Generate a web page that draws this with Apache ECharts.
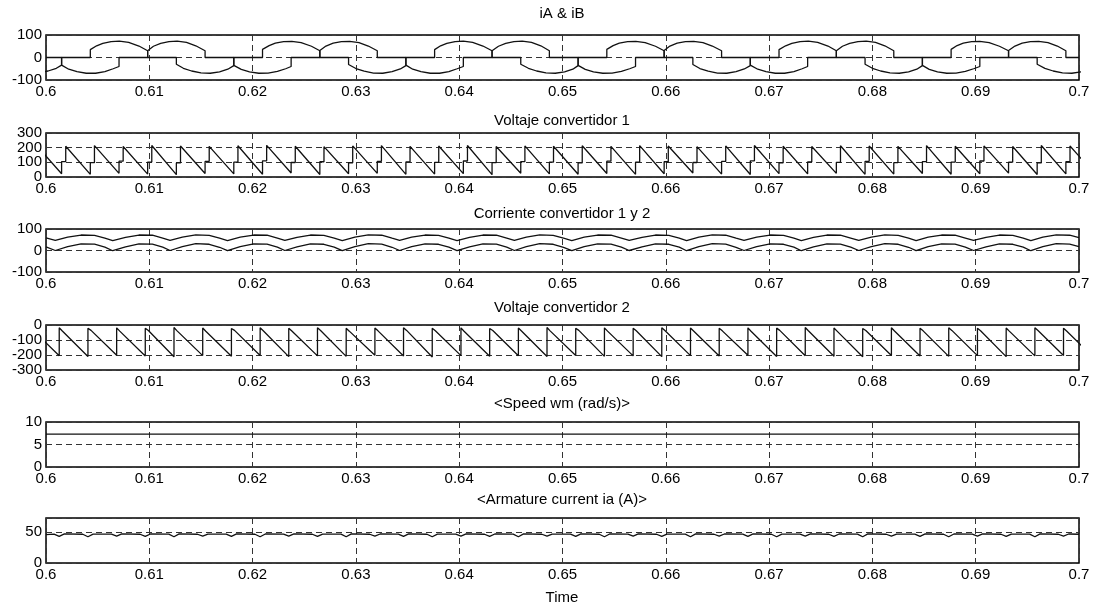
<!DOCTYPE html>
<html>
<head>
<meta charset="utf-8">
<script src="https://cdn.jsdelivr.net/npm/echarts@6/dist/echarts.min.js"></script>
<style>
  html, body { margin: 0; padding: 0; background: #fff; }
  #chart { width: 1097px; height: 611px; }
</style>
</head>
<body>
<div id="chart"></div>
<script>
// eje de tiempo comun
const xTicks = [0.6, 0.61, 0.62, 0.63, 0.64, 0.65, 0.66, 0.67, 0.68, 0.69, 0.7];
const xTickLabels = ['0.6', '0.61', '0.62', '0.63', '0.64', '0.65', '0.66', '0.67', '0.68', '0.69', '0.7'];

const panelTitles = ['iA & iB', 'Voltaje convertidor 1', 'Corriente convertidor 1 y 2',
  'Voltaje convertidor 2', '<Speed wm (rad/s)>', '<Armature current ia (A)>'];

// ticks del eje y de cada panel
const iTicks = [-100, 0, 100];
const v1Ticks = [0, 100, 200, 300];
const cTicks = [-100, 0, 100];
const v2Ticks = [-300, -200, -100, 0];
const wTicks = [0, 5, 10];
const iaTicks = [0, 50];

// iA (t, A)
const iA = [
  [0.5993, -68], [0.6002, -60], [0.6010, -48], [0.60151, -34], [0.60151, 0],
  [0.60429, 0], [0.60429, 35], [0.6049, 52], [0.6055, 63], [0.6063, 71], [0.6071, 73], [0.6080, 67], [0.6090, 51], [0.60984, 30], [0.60984, 0],
  [0.61262, 0], [0.61262, -30], [0.6133, -48], [0.6141, -60], [0.6150, -68], [0.6159, -70], [0.6168, -64], [0.6176, -52], [0.61818, -36], [0.61818, 0],
  [0.62096, 0], [0.62096, 36], [0.6216, 53], [0.6222, 64], [0.6230, 71], [0.6238, 72], [0.6247, 66], [0.6257, 50], [0.62651, 30], [0.62651, 0],
  [0.62929, 0], [0.62929, -31], [0.6300, -49], [0.6308, -61], [0.6317, -69], [0.6326, -70], [0.6335, -63], [0.6343, -51], [0.63484, -36], [0.63484, 0],
  [0.63762, 0], [0.63762, 35], [0.6382, 52], [0.6388, 63], [0.6396, 71], [0.6404, 73], [0.6413, 67], [0.6423, 51], [0.64318, 30], [0.64318, 0],
  [0.64596, 0], [0.64596, -30], [0.6467, -48], [0.6475, -60], [0.6484, -68], [0.6493, -70], [0.6502, -64], [0.6510, -52], [0.65151, -36], [0.65151, 0],
  [0.65429, 0], [0.65429, 36], [0.6549, 53], [0.6555, 64], [0.6563, 71], [0.6571, 72], [0.6580, 66], [0.6590, 50], [0.65984, 30], [0.65984, 0],
  [0.66262, 0], [0.66262, -31], [0.6633, -49], [0.6641, -61], [0.6650, -69], [0.6659, -70], [0.6668, -63], [0.6676, -51], [0.66818, -36], [0.66818, 0],
  [0.67096, 0], [0.67096, 35], [0.6716, 52], [0.6722, 63], [0.6730, 71], [0.6738, 73], [0.6747, 67], [0.6757, 51], [0.67651, 30], [0.67651, 0],
  [0.67929, 0], [0.67929, -30], [0.6800, -48], [0.6808, -60], [0.6817, -68], [0.6826, -70], [0.6835, -64], [0.6843, -52], [0.68484, -36], [0.68484, 0],
  [0.68762, 0], [0.68762, 36], [0.6882, 53], [0.6888, 64], [0.6896, 71], [0.6904, 72], [0.6913, 66], [0.6923, 50], [0.69318, 30], [0.69318, 0],
  [0.69595, 0], [0.69595, -30], [0.6967, -48], [0.6975, -60], [0.6984, -68], [0.6993, -70], [0.7002, -64]
];

// iB (t, A)
const iB = [
  [0.6, 0],
  [0.60151, 0], [0.60151, -34], [0.6022, -52], [0.6030, -63], [0.6039, -70], [0.6048, -70], [0.6057, -63], [0.6065, -50], [0.60707, -40], [0.60707, 0],
  [0.60984, 0], [0.60984, 30], [0.6104, 50], [0.6111, 63], [0.6119, 71], [0.6127, 73], [0.6136, 67], [0.6145, 52], [0.6154, 30], [0.6154, 0],
  [0.61818, 0], [0.61818, -35], [0.6189, -53], [0.6197, -64], [0.6206, -70], [0.6215, -69], [0.6224, -62], [0.6232, -50], [0.62373, -40], [0.62373, 0],
  [0.62651, 0], [0.62651, 31], [0.6271, 51], [0.6278, 64], [0.6286, 71], [0.6294, 72], [0.6303, 66], [0.6312, 51], [0.63207, 30], [0.63207, 0],
  [0.63484, 0], [0.63484, -34], [0.6355, -52], [0.6363, -63], [0.6372, -70], [0.6381, -70], [0.6390, -63], [0.6398, -50], [0.6404, -40], [0.6404, 0],
  [0.64318, 0], [0.64318, 30], [0.6438, 50], [0.6445, 63], [0.6453, 71], [0.6461, 73], [0.6470, 67], [0.6479, 52], [0.64873, 30], [0.64873, 0],
  [0.65151, 0], [0.65151, -35], [0.6522, -53], [0.6530, -64], [0.6539, -70], [0.6548, -69], [0.6557, -62], [0.6565, -50], [0.65707, -40], [0.65707, 0],
  [0.65984, 0], [0.65984, 31], [0.6604, 51], [0.6611, 64], [0.6619, 71], [0.6627, 72], [0.6636, 66], [0.6645, 51], [0.6654, 30], [0.6654, 0],
  [0.66818, 0], [0.66818, -34], [0.6689, -52], [0.6697, -63], [0.6706, -70], [0.6715, -70], [0.6724, -63], [0.6732, -50], [0.67373, -40], [0.67373, 0],
  [0.67651, 0], [0.67651, 30], [0.6771, 50], [0.6778, 63], [0.6786, 71], [0.6794, 73], [0.6803, 67], [0.6812, 52], [0.68207, 30], [0.68207, 0],
  [0.68484, 0], [0.68484, -35], [0.6855, -53], [0.6863, -64], [0.6872, -70], [0.6881, -69], [0.6890, -62], [0.6898, -50], [0.6904, -40], [0.6904, 0],
  [0.69318, 0], [0.69318, 31], [0.6938, 51], [0.6945, 64], [0.6953, 71], [0.6961, 72], [0.6970, 66], [0.6979, 51], [0.69873, 30], [0.69873, 0],
  [0.7, 0]
];

// convertidor 1: un diente por conmutacion
const conv1Commut = [0.59873, 0.60151, 0.60429, 0.60707, 0.60984, 0.61262, 0.6154, 0.61818, 0.62096, 0.62373,
  0.62651, 0.62929, 0.63207, 0.63484, 0.63762, 0.6404, 0.64318, 0.64596, 0.64873, 0.65151,
  0.65429, 0.65707, 0.65984, 0.66262, 0.6654, 0.66818, 0.67096, 0.67373, 0.67651, 0.67929,
  0.68207, 0.68484, 0.68762, 0.6904, 0.69318, 0.69595, 0.69873, 0.70151];
const conv1Peak = [212, 210, 214, 208, 215, 211, 209, 213, 216, 210, 207, 212, 214, 209, 211, 215, 208, 212, 210, 213,
  209, 214, 211, 207, 212, 215, 210, 208, 213, 211, 209, 214, 210, 212, 208, 215, 211];
const conv1Trough = [22, 18, 25, 20, 16, 24, 21, 19, 27, 17, 22, 25, 18, 20, 23, 16, 26, 21, 19, 24,
  18, 22, 27, 20, 17, 23, 21, 25, 18, 20, 24, 19, 22, 26, 17, 21, 23];
const conv1Notch = [100, 105, 98, 108, 102, 96, 106, 101, 110, 99, 104, 97, 107, 103, 100, 109, 98, 105, 102, 96,
  108, 101, 104, 99, 106, 110, 97, 103, 100, 107, 98, 105, 102, 109, 101, 96, 104];
const conv1Overlap = 0.0004;

// convertidor 2
const conv2Rise = [0.5985, 0.60128, 0.60406, 0.60684, 0.60961, 0.61239, 0.61517, 0.61795, 0.62073, 0.6235,
  0.62628, 0.62906, 0.63184, 0.63461, 0.63739, 0.64017, 0.64295, 0.64573, 0.6485, 0.65128,
  0.65406, 0.65684, 0.65961, 0.66239, 0.66517, 0.66795, 0.67073, 0.6735, 0.67628, 0.67906,
  0.68184, 0.68461, 0.68739, 0.69017, 0.69295, 0.69573, 0.6985, 0.70128];
const conv2Top = [-20, -18, -22, -19, -21, -17, -20, -23, -18, -21, -19, -22, -20, -18, -21, -19, -23, -20, -17, -22,
  -19, -21, -18, -20, -22, -19, -21, -17, -20, -23, -18, -21, -19, -22, -20, -18, -21];
const conv2Knee = [-38, -40, -36, -41, -37, -39, -42, -36, -38, -40, -37, -41, -39, -36, -38, -42, -37, -40, -39, -36,
  -41, -38, -37, -40, -39, -42, -36, -38, -41, -37, -40, -39, -36, -38, -41, -37, -40];
const conv2Bottom = [-205, -210, -202, -207, -212, -204, -208, -203, -211, -206, -209, -202, -207, -213, -204, -208, -205, -210, -203, -209,
  -206, -211, -204, -207, -202, -210, -205, -208, -212, -203, -207, -209, -204, -211, -206, -203, -208];
const conv2Overlap = 0.0003;

// corrientes de los convertidores 1 y 2
const iConv1 = [
  [0.6, 59],
  [0.6009, 47], [0.6021, 62], [0.6034, 72], [0.6047, 70], [0.6057, 58],
  [0.60646, 46], [0.6077, 61], [0.609, 72], [0.6103, 71], [0.6113, 58],
  [0.61201, 47], [0.6132, 62], [0.6145, 73], [0.6158, 70], [0.6168, 57],
  [0.61757, 46], [0.6188, 62], [0.6201, 72], [0.6214, 71], [0.6224, 58],
  [0.62312, 47], [0.6243, 61], [0.6256, 72], [0.6269, 70], [0.6279, 58],
  [0.62868, 46], [0.6299, 62], [0.6312, 73], [0.6325, 71], [0.6335, 57],
  [0.63423, 47], [0.6354, 62], [0.6367, 72], [0.638, 70], [0.639, 58],
  [0.63979, 46], [0.641, 61], [0.6423, 72], [0.6436, 71], [0.6446, 58],
  [0.64534, 47], [0.6465, 62], [0.6478, 73], [0.6491, 70], [0.6501, 57],
  [0.6509, 46], [0.6521, 62], [0.6534, 72], [0.6547, 71], [0.6557, 58],
  [0.65646, 47], [0.6577, 61], [0.659, 72], [0.6603, 70], [0.6613, 58],
  [0.66201, 46], [0.6632, 62], [0.6645, 73], [0.6658, 71], [0.6668, 57],
  [0.66757, 47], [0.6688, 62], [0.6701, 72], [0.6714, 70], [0.6724, 58],
  [0.67312, 46], [0.6743, 61], [0.6756, 72], [0.6769, 71], [0.6779, 58],
  [0.67868, 47], [0.6799, 62], [0.6812, 73], [0.6825, 70], [0.6835, 57],
  [0.68423, 46], [0.6854, 62], [0.6867, 72], [0.688, 71], [0.689, 58],
  [0.68979, 47], [0.691, 61], [0.6923, 72], [0.6936, 70], [0.6946, 58],
  [0.69534, 46], [0.6965, 62], [0.6978, 73], [0.6991, 71], [0.7, 60]
];
const iConv2 = [
  [0.6, 17],
  [0.6009, 0], [0.6021, 18], [0.6034, 31], [0.6047, 30], [0.6057, 16],
  [0.60646, -1], [0.6077, 17], [0.609, 31], [0.6103, 30], [0.6113, 16],
  [0.61201, 0], [0.6132, 18], [0.6145, 32], [0.6158, 29], [0.6168, 15],
  [0.61757, -1], [0.6188, 18], [0.6201, 31], [0.6214, 30], [0.6224, 16],
  [0.62312, 0], [0.6243, 17], [0.6256, 31], [0.6269, 29], [0.6279, 16],
  [0.62868, -1], [0.6299, 18], [0.6312, 32], [0.6325, 30], [0.6335, 15],
  [0.63423, 0], [0.6354, 18], [0.6367, 31], [0.638, 29], [0.639, 16],
  [0.63979, -1], [0.641, 17], [0.6423, 31], [0.6436, 30], [0.6446, 16],
  [0.64534, 0], [0.6465, 18], [0.6478, 32], [0.6491, 29], [0.6501, 15],
  [0.6509, -1], [0.6521, 18], [0.6534, 31], [0.6547, 30], [0.6557, 16],
  [0.65646, 0], [0.6577, 17], [0.659, 31], [0.6603, 29], [0.6613, 16],
  [0.66201, -1], [0.6632, 18], [0.6645, 32], [0.6658, 30], [0.6668, 15],
  [0.66757, 0], [0.6688, 18], [0.6701, 31], [0.6714, 29], [0.6724, 16],
  [0.67312, -1], [0.6743, 17], [0.6756, 31], [0.6769, 30], [0.6779, 16],
  [0.67868, 0], [0.6799, 18], [0.6812, 32], [0.6825, 29], [0.6835, 15],
  [0.68423, -1], [0.6854, 18], [0.6867, 31], [0.688, 30], [0.689, 16],
  [0.68979, 0], [0.691, 17], [0.6923, 31], [0.6936, 29], [0.6946, 16],
  [0.69534, -1], [0.6965, 18], [0.6978, 32], [0.6991, 30], [0.7, 18]
];

// velocidad (rad/s)
const speedWm = [[0.6, 7.3], [0.7, 7.3]];

// corriente de armadura (A)
const armCurrent = [
  [0.6, 45.5],
  [0.60078, 46.2], [0.60128, 42.5], [0.60178, 46.5], [0.60356, 46], [0.60406, 42], [0.60456, 46.3],
  [0.60634, 46.2], [0.60684, 43], [0.60734, 46.6], [0.60911, 46], [0.60961, 42.5], [0.61011, 46.4],
  [0.61189, 46.3], [0.61239, 42], [0.61289, 46.5], [0.61467, 46], [0.61517, 43], [0.61567, 46.3],
  [0.61745, 46.2], [0.61795, 42.5], [0.61845, 46.6], [0.62023, 46], [0.62073, 42], [0.62123, 46.4],
  [0.623, 46.3], [0.6235, 43], [0.624, 46.5], [0.62578, 46], [0.62628, 42.5], [0.62678, 46.3],
  [0.62856, 46.2], [0.62906, 42], [0.62956, 46.6], [0.63134, 46], [0.63184, 43], [0.63234, 46.4],
  [0.63411, 46.3], [0.63461, 42.5], [0.63511, 46.5], [0.63689, 46], [0.63739, 42], [0.63789, 46.3],
  [0.63967, 46.2], [0.64017, 43], [0.64067, 46.6], [0.64245, 46], [0.64295, 42.5], [0.64345, 46.4],
  [0.64523, 46.3], [0.64573, 42], [0.64623, 46.5], [0.648, 46], [0.6485, 43], [0.649, 46.3],
  [0.65078, 46.2], [0.65128, 42.5], [0.65178, 46.6], [0.65356, 46], [0.65406, 42], [0.65456, 46.4],
  [0.65634, 46.3], [0.65684, 43], [0.65734, 46.5], [0.65911, 46], [0.65961, 42.5], [0.66011, 46.3],
  [0.66189, 46.2], [0.66239, 42], [0.66289, 46.6], [0.66467, 46], [0.66517, 43], [0.66567, 46.4],
  [0.66745, 46.3], [0.66795, 42.5], [0.66845, 46.5], [0.67023, 46], [0.67073, 42], [0.67123, 46.3],
  [0.673, 46.2], [0.6735, 43], [0.674, 46.6], [0.67578, 46], [0.67628, 42.5], [0.67678, 46.4],
  [0.67856, 46.3], [0.67906, 42], [0.67956, 46.5], [0.68134, 46], [0.68184, 43], [0.68234, 46.3],
  [0.68411, 46.2], [0.68461, 42.5], [0.68511, 46.6], [0.68689, 46], [0.68739, 42], [0.68789, 46.4],
  [0.68967, 46.3], [0.69017, 43], [0.69067, 46.5], [0.69245, 46], [0.69295, 42.5], [0.69345, 46.3],
  [0.69523, 46.2], [0.69573, 42], [0.69623, 46.6], [0.698, 46], [0.6985, 43], [0.699, 46.4],
  [0.7, 46]
];

// armar los dientes de sierra a partir de las tablas
function buildConv1 () {
  const out = [];
  for (let k = 0; k < conv1Peak.length; k++) {
    const t0 = conv1Commut[k], t1 = conv1Commut[k + 1];
    out.push([t0, conv1Notch[k]], [t0 + conv1Overlap, conv1Notch[k]],
      [t0 + conv1Overlap, conv1Peak[k]], [t1, conv1Trough[k]]);
  }
  return out;
}
function buildConv2 () {
  const out = [];
  for (let k = 0; k < conv2Top.length; k++) {
    const t0 = conv2Rise[k], t1 = conv2Rise[k + 1];
    out.push([t0, conv2Top[k]], [t0 + conv2Overlap, conv2Knee[k]], [t1, conv2Bottom[k]]);
  }
  return out;
}

const FONT = '"Liberation Sans", Arial, sans-serif';
const panels = [
  { top: 35, height: 45, min: -100, max: 100, interval: 100, ticks: iTicks, titleY: 14 },
  { top: 133, height: 44, min: 0, max: 300, interval: 100, ticks: v1Ticks, titleY: 121 },
  { top: 229, height: 43, min: -100, max: 100, interval: 100, ticks: cTicks, titleY: 214 },
  { top: 325, height: 45, min: -300, max: 0, interval: 100, ticks: v2Ticks, titleY: 308 },
  { top: 422, height: 45, min: 0, max: 10, interval: 5, ticks: wTicks, titleY: 404 },
  { top: 518, height: 45, min: 0, max: 72, interval: 50, ticks: iaTicks, titleY: 500 }
];
const seriesData = [[iA, iB], [buildConv1()], [iConv1, iConv2], [buildConv2()], [speedWm], [armCurrent]];

const yLabelStyle = { margin: 4, fontSize: 15, color: '#000', fontFamily: FONT,
  showMinLabel: true, showMaxLabel: true, hideOverlap: false };

const grid = [], xAxis = [], yAxis = [], series = [];
panels.forEach((p, i) => {
  grid.push({ left: 46, right: 18, top: p.top, height: p.height, show: true,
    borderColor: '#000', borderWidth: 1.5 });
  xAxis.push({
    type: 'value', gridIndex: i, min: 0.6, max: 0.7, interval: 0.01,
    axisLine: { show: false }, axisTick: { show: false },
    axisLabel: {
      customValues: xTicks, margin: 4, fontSize: 15, color: '#000', fontFamily: FONT,
      showMinLabel: true, showMaxLabel: true, hideOverlap: false,
      formatter: v => xTickLabels[xTicks.findIndex(t => Math.abs(t - v) < 1e-9)]
    },
    splitLine: { show: true, lineStyle: { color: '#333', width: 1, type: [6, 4] } }
  });
  // eje principal: rejilla y etiquetas pares
  yAxis.push({
    type: 'value', gridIndex: i, min: p.min, max: p.max, interval: p.interval,
    axisLine: { show: false }, axisTick: { show: false },
    axisLabel: Object.assign({ customValues: p.ticks.filter((v, j) => j % 2 === 0) }, yLabelStyle),
    splitLine: { show: true, lineStyle: { color: '#333', width: 1, type: [6, 4] } }
  });
  // eje auxiliar: etiquetas impares (evita que se oculten por solaparse)
  yAxis.push({
    type: 'value', gridIndex: i, min: p.min, max: p.max, interval: p.interval, position: 'left',
    axisLine: { show: false }, axisTick: { show: false }, splitLine: { show: false },
    axisLabel: Object.assign({ customValues: p.ticks.filter((v, j) => j % 2 === 1) }, yLabelStyle)
  });
  seriesData[i].forEach(d => {
    series.push({
      type: 'line', xAxisIndex: i, yAxisIndex: 2 * i, data: d, showSymbol: false,
      clip: true, lineStyle: { color: '#111', width: 1.3 }, silent: true
    });
  });
});

const graphic = panels.map((p, i) => ({
  type: 'text', x: 562, y: p.titleY,
  style: { text: panelTitles[i], align: 'center', verticalAlign: 'middle',
    textAlign: 'center', textVerticalAlign: 'middle', fontSize: 15, fill: '#000', fontFamily: FONT }
}));
graphic.push({
  type: 'text', x: 562, y: 598,
  style: { text: 'Time', align: 'center', verticalAlign: 'middle',
    textAlign: 'center', textVerticalAlign: 'middle', fontSize: 15, fill: '#000', fontFamily: FONT }
});

const chart = echarts.init(document.getElementById('chart'));
chart.setOption({
  backgroundColor: '#fff',
  animation: false,
  grid, xAxis, yAxis, series, graphic
});
</script>
</body>
</html>
